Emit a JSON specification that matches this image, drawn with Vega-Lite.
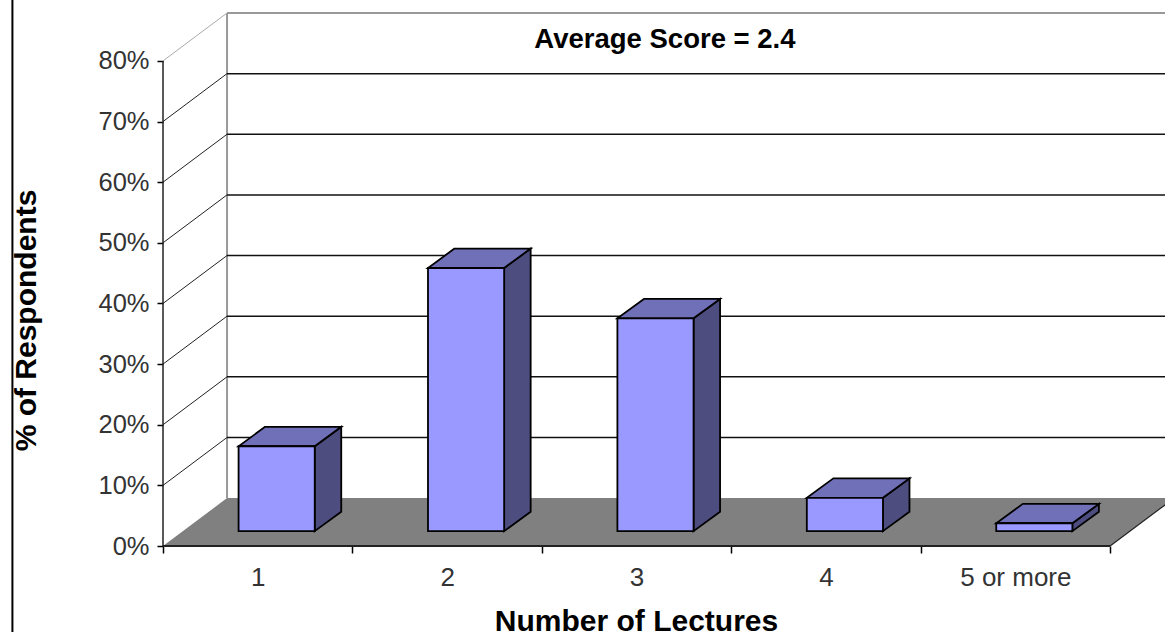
{"$schema":"https://vega.github.io/schema/vega-lite/v6.json","width":1002,"height":533,"autosize":{"type":"none"},"padding":{"left":163,"top":13,"right":0,"bottom":86},"background":"white","view":{"stroke":null},"config":{"font":"Liberation Sans"},"datasets":{"bars":[{"category":"1","idx":1,"value":14},{"category":"2","idx":2,"value":43.4},{"category":"3","idx":3,"value":35.1},{"category":"4","idx":4,"value":5.5},{"category":"5 or more","idx":5,"value":1.3}],"grid":[{"v":10},{"v":20},{"v":30},{"v":40},{"v":50},{"v":60},{"v":70},{"v":80}],"one":[{"row":1}]},"layer":[{"data":{"name":"one"},"transform":[{"calculate":"-0.795","as":"fx"},{"calculate":"-15","as":"fy"},{"calculate":"92","as":"fy2"}],"mark":{"type":"rule","stroke":"black","strokeWidth":2,"clip":false},"encoding":{"x":{"field":"fx","type":"quantitative","scale":{"domain":[0,5.29],"nice":false,"zero":false},"axis":{"values":[0,1,2,3,4,5],"grid":false,"domain":false,"tickColor":"black","tickSize":7,"tickWidth":1.5,"labelExpr":"['1','2','3','4','5 or more',''][datum.value]","labelOffset":94.7,"labelFontSize":26,"labelColor":"#333333","labelPadding":11,"labelOverlap":false,"labelBound":false,"labelFlush":false,"title":"Number of Lectures","titleFontSize":30,"titleFontWeight":"bold","titleColor":"black","titleBaseline":"alphabetic","titleX":473,"titleY":84,"titleAnchor":"middle"}},"y":{"field":"fy","type":"quantitative","scale":{"domain":[0,87.9],"nice":false,"zero":false},"axis":{"values":[0,10,20,30,40,50,60,70,80],"grid":false,"domain":false,"tickColor":"black","tickSize":6,"tickWidth":1.5,"labelExpr":"datum.value + '%'","labelFontSize":25.5,"labelColor":"#333333","labelPadding":8,"labelOverlap":false,"labelBound":false,"title":"% of Respondents","titleFontSize":30,"titleFontWeight":"bold","titleColor":"black","titleBaseline":"alphabetic","titleX":-128,"titleY":307,"titleAngle":-90,"titleAnchor":"middle"}},"y2":{"field":"fy2"}}},{"data":{"values":[{"depth":0},{"depth":1}]},"transform":[{"calculate":"datum.depth*0.338","as":"x0"},{"calculate":"5+datum.depth*0.338","as":"x1"},{"calculate":"datum.depth*7.9","as":"yy"}],"layer":[{"mark":{"type":"area","orient":"horizontal","fill":"#808080"},"encoding":{"y":{"field":"yy","type":"quantitative"},"x":{"field":"x0","type":"quantitative"},"x2":{"field":"x1"}}},{"mark":{"type":"line","stroke":"#222222","strokeWidth":1.2},"encoding":{"y":{"field":"yy","type":"quantitative"},"x":{"field":"x1","type":"quantitative"}}}]},{"data":{"name":"one"},"transform":[{"calculate":"0.338","as":"wx"},{"calculate":"5.338","as":"wx2"},{"calculate":"7.9","as":"wy"},{"calculate":"87.9","as":"wy2"},{"calculate":"0","as":"ax"},{"calculate":"5","as":"ax2"},{"calculate":"0","as":"ay"},{"calculate":"80","as":"ay2"}],"layer":[{"mark":{"type":"rule","stroke":"#999999","strokeWidth":2},"encoding":{"x":{"field":"wx","type":"quantitative"},"y":{"field":"wy","type":"quantitative"},"y2":{"field":"wy2"}}},{"mark":{"type":"rule","stroke":"#222222","strokeWidth":1.5},"encoding":{"x":{"field":"ax","type":"quantitative"},"y":{"field":"ay","type":"quantitative"},"y2":{"field":"ay2"}}},{"mark":{"type":"rule","stroke":"#222222","strokeWidth":2},"encoding":{"x":{"field":"ax","type":"quantitative"},"x2":{"field":"ax2"},"y":{"field":"ay","type":"quantitative"}}}]},{"data":{"name":"grid"},"transform":[{"calculate":"datum.v+7.9","as":"back"},{"calculate":"0.338","as":"wx"},{"calculate":"5.338","as":"wx2"},{"calculate":"0","as":"ax"}],"layer":[{"transform":[{"filter":"datum.v<80"}],"mark":{"type":"rule","stroke":"#111111","strokeWidth":1.5},"encoding":{"x":{"field":"wx","type":"quantitative"},"x2":{"field":"wx2"},"y":{"field":"back","type":"quantitative"}}},{"transform":[{"filter":"datum.v==80"}],"mark":{"type":"rule","stroke":"#999999","strokeWidth":2},"encoding":{"x":{"field":"wx","type":"quantitative"},"x2":{"field":"wx2"},"y":{"field":"back","type":"quantitative"}}},{"transform":[{"filter":"datum.v<80"}],"mark":{"type":"rule","stroke":"#222222","strokeWidth":1},"encoding":{"x":{"field":"ax","type":"quantitative"},"x2":{"field":"wx"},"y":{"field":"v","type":"quantitative"},"y2":{"field":"back"}}},{"transform":[{"filter":"datum.v==80"}],"mark":{"type":"rule","stroke":"#aaaaaa","strokeWidth":1},"encoding":{"x":{"field":"ax","type":"quantitative"},"x2":{"field":"wx"},"y":{"field":"v","type":"quantitative"},"y2":{"field":"back"}}}]},{"data":{"name":"bars"},"transform":[{"calculate":"[0,1]","as":"depth"},{"flatten":["depth"]},{"calculate":"datum.idx-0.601","as":"xL"},{"calculate":"datum.idx-0.199","as":"xR"},{"calculate":"datum.depth*0.14","as":"dx"},{"calculate":"datum.depth*3.2","as":"dy"},{"calculate":"datum.xR+datum.dx","as":"sideX"},{"calculate":"2.45+datum.dy","as":"sideLow"},{"calculate":"2.45+datum.value+datum.dy","as":"sideHigh"},{"calculate":"datum.xL+datum.dx","as":"topL"},{"calculate":"datum.xR+datum.dx","as":"topR"}],"layer":[{"mark":{"type":"area","orient":"vertical","fill":"#4D4D80","stroke":"black","strokeWidth":1.8},"encoding":{"x":{"field":"sideX","type":"quantitative"},"y":{"field":"sideLow","type":"quantitative"},"y2":{"field":"sideHigh"},"detail":{"field":"category"}}},{"mark":{"type":"area","orient":"horizontal","fill":"#7070B8","stroke":"black","strokeWidth":1.8},"encoding":{"y":{"field":"sideHigh","type":"quantitative"},"x":{"field":"topL","type":"quantitative"},"x2":{"field":"topR"},"detail":{"field":"category"}}}]},{"data":{"name":"bars"},"transform":[{"calculate":"datum.idx-0.601","as":"xL"},{"calculate":"datum.idx-0.199","as":"xR"},{"calculate":"2.45","as":"yBase"},{"calculate":"2.45+datum.value","as":"yTop"}],"mark":{"type":"rect","fill":"#9999FF","stroke":"black","strokeWidth":1.8},"encoding":{"x":{"field":"xL","type":"quantitative"},"x2":{"field":"xR"},"y":{"field":"yBase","type":"quantitative"},"y2":{"field":"yTop"}}},{"data":{"values":[{"note":"Average Score = 2.4"}]},"transform":[{"calculate":"2.65","as":"px"},{"calculate":"83.4","as":"py"}],"mark":{"type":"text","font":"Liberation Sans","fontSize":27.5,"fontWeight":"bold","color":"black","align":"center","baseline":"middle"},"encoding":{"x":{"field":"px","type":"quantitative"},"y":{"field":"py","type":"quantitative"},"text":{"field":"note"}}}]}
